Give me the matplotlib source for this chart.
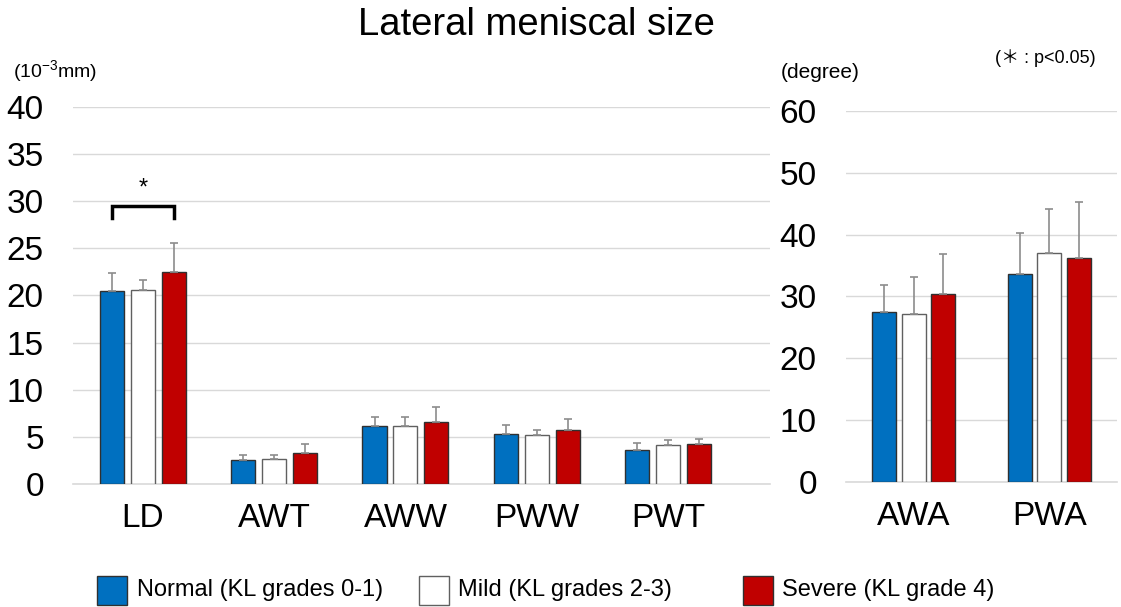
import numpy as np
import matplotlib.pyplot as plt
from matplotlib.patches import Rectangle

plt.rcParams['font.family'] = ['Liberation Sans', 'DejaVu Sans']

# length / width measures (10^-3 mm)
size_labels = ['LD', 'AWT', 'AWW', 'PWW', 'PWT']
size_normal = [20.5, 2.55, 6.1, 5.35, 3.65]
size_normal_sd = [1.9, 0.55, 1.0, 0.95, 0.65]
size_mild = [20.6, 2.65, 6.1, 5.2, 4.1]
size_mild_sd = [1.0, 0.45, 1.0, 0.55, 0.6]
size_severe = [22.5, 3.3, 6.6, 5.75, 4.2]
size_severe_sd = [3.1, 0.9, 1.6, 1.15, 0.6]

# wedge angles (degree)
angle_labels = ['AWA', 'PWA']
angle_normal = [27.5, 33.6]
angle_normal_sd = [4.4, 6.7]
angle_mild = [27.1, 37.1]
angle_mild_sd = [6.0, 7.1]
angle_severe = [30.4, 36.2]
angle_severe_sd = [6.4, 9.0]

group_names = ['Normal (KL grades 0-1)', 'Mild (KL grades 2-3)', 'Severe (KL grade 4)']
colors = ['#0070C0', '#FFFFFF', '#C00000']
edges = ['#303030', '#606060', '#303030']
GRID = '#D9D9D9'

fig = plt.figure(figsize=(11.21, 6.07), dpi=100)
ax1 = fig.add_axes([0.0651, 0.2026, 0.6218, 0.6216])
ax2 = fig.add_axes([0.7547, 0.2064, 0.2418, 0.6107])


def draw_groups(ax, labels, series, width, step):
    x = np.arange(len(labels))
    for k, (vals, sd) in enumerate(series):
        ax.bar(x + (k - 1) * step, vals, width, color=colors[k],
               edgecolor=edges[k], linewidth=1.0, zorder=3,
               yerr=[np.zeros(len(sd)), sd], ecolor='#8C8C8C',
               error_kw=dict(elinewidth=1.2, capsize=3, capthick=1.2, zorder=4))
    ax.set_xticks(x)
    ax.set_xticklabels(labels, fontsize=24)
    ax.tick_params(axis='x', length=0, pad=14)
    ax.tick_params(axis='y', length=0, pad=21, labelsize=24)
    for s in ['top', 'right', 'left']:
        ax.spines[s].set_visible(False)
    ax.spines['bottom'].set_color(GRID)
    ax.spines['bottom'].set_linewidth(1.2)
    ax.yaxis.grid(True, color=GRID, linewidth=1.0, zorder=0)
    ax.set_axisbelow(True)
    return x


x1 = draw_groups(ax1, size_labels,
                 [(size_normal, size_normal_sd), (size_mild, size_mild_sd),
                  (size_severe, size_severe_sd)], 0.183, 0.236)
ax1.set_xlim(-0.533, 4.777)
ax1.set_ylim(0, 40)
ax1.set_yticks(np.arange(0, 41, 5))

x2 = draw_groups(ax2, angle_labels,
                 [(angle_normal, angle_normal_sd), (angle_mild, angle_mild_sd),
                  (angle_severe, angle_severe_sd)], 0.177, 0.218)
ax2.set_xlim(-0.5, 1.5)
ax2.set_ylim(0, 60)
ax2.set_yticks(np.arange(0, 61, 10))

# significance bracket between normal and severe LD
bx0, bx1 = x1[0] - 0.236, x1[0] + 0.236
ax1.plot([bx0, bx0, bx1, bx1], [28.2, 29.5, 29.5, 28.2], color='black',
         linewidth=2.5, solid_joinstyle='miter', zorder=5, clip_on=False)
ax1.text(x1[0], 31.3, '*', ha='center', va='center', fontsize=17)

fig.text(536 / 1121, 1 - 25 / 607, 'Lateral meniscal size', ha='center',
         va='center', fontsize=27.5)
fig.text(13 / 1121, 1 - 72 / 607, '(10$^{\\mathregular{-3}}$mm)', ha='left',
         va='center', fontsize=14)
fig.text(781 / 1121, 1 - 73 / 607, '(degree)', ha='left', va='center', fontsize=15)
fig.text(1096 / 1121, 1 - 58 / 607, '(\uff0a : p<0.05)', ha='right',
         va='center', fontsize=13,
         family=['Liberation Sans', 'Noto Sans CJK JP'])

# legend row
legend_items = [(97, 137), (419, 458), (743, 782)]
for (px, tx), name, c, e in zip(legend_items, group_names, colors, edges):
    fig.patches.append(Rectangle((px / 1121, 1 - 605 / 607), 30 / 1121, 29 / 607,
                                 transform=fig.transFigure, facecolor=c,
                                 edgecolor=e, linewidth=1.0))
    fig.text(tx / 1121, 1 - 590 / 607, name, ha='left', va='center', fontsize=17)

fig.savefig('out.png', dpi=100)
